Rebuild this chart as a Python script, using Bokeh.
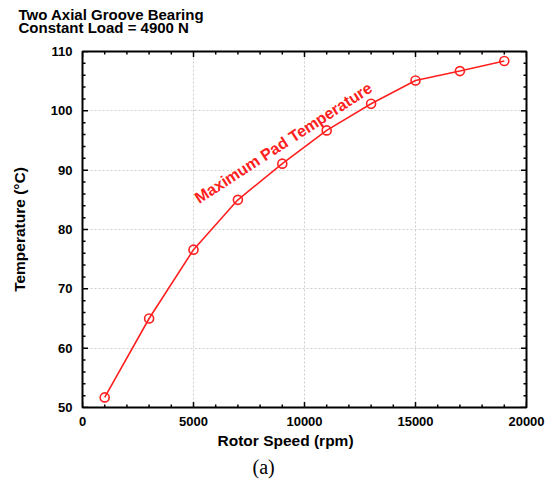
import math
from bokeh.plotting import figure
from bokeh.models import Label, Title, Range1d, ColumnDataSource
from bokeh.embed import file_html
from bokeh.resources import INLINE

# Data
rotor_speed = [1000, 3000, 5000, 7000, 9000, 11000, 13000, 15000, 17000, 19000]
max_pad_temp = [51.7, 65.0, 76.6, 85.0, 91.1, 96.7, 101.2, 105.1, 106.7, 108.4]
x_ticks = [0, 5000, 10000, 15000, 20000]
y_ticks = [50, 60, 70, 80, 90, 100, 110]
x_minor_ticks = [1000, 2000, 3000, 4000, 6000, 7000, 8000, 9000,
                 11000, 12000, 13000, 14000, 16000, 17000, 18000, 19000]
y_minor_ticks = [52, 54, 56, 58, 62, 64, 66, 68, 72, 74, 76, 78,
                 82, 84, 86, 88, 92, 94, 96, 98, 102, 104, 106, 108]
title_lines = ["Two Axial Groove Bearing", "Constant Load = 4900 N"]
series_label = "Maximum Pad Temperature"
x_label = "Rotor Speed (rpm)"
y_label = "Temperature (°C)"
caption = "(a)"

FONT = "Liberation Sans"
RED = "#ff2020"
X0, X1, Y0, Y1 = 0, 20000, 50, 110

p = figure(width=556, height=483, output_backend="svg", toolbar_location=None,
           x_range=Range1d(X0, X1), y_range=Range1d(Y0, Y1),
           min_border_left=82, min_border_right=30, min_border_top=51, min_border_bottom=76)
p.background_fill_color = "white"
p.border_fill_color = "white"
p.outline_line_color = "black"
p.outline_line_width = 2

for ax in (p.xaxis[0], p.yaxis[0]):
    ax.major_label_text_font = FONT
    ax.major_label_text_font_style = "bold"
    ax.major_label_text_font_size = "13px"
    ax.major_label_text_color = "black"
    ax.axis_line_color = None
    ax.major_tick_line_color = None
    ax.minor_tick_line_color = None
    ax.major_tick_out = 0
    ax.minor_tick_out = 0

p.xaxis.ticker = x_ticks
p.yaxis.ticker = y_ticks
p.xaxis.major_label_standoff = 9
p.yaxis.major_label_standoff = 10

p.yaxis.axis_label = y_label
p.yaxis.axis_label_text_font = FONT
p.yaxis.axis_label_text_font_style = "bold"
p.yaxis.axis_label_text_font_size = "15.5px"
p.yaxis.axis_label_text_color = "black"
p.yaxis.axis_label_standoff = 20

p.xgrid.ticker = x_ticks
p.ygrid.ticker = y_ticks
p.xgrid.grid_line_color = "#cfcfcf"
p.ygrid.grid_line_color = "#cfcfcf"
p.xgrid.grid_line_dash = "2 2"
p.ygrid.grid_line_dash = "2 2"

# Inward tick marks on all four sides (clipped to the frame, so only the inner half shows)
for xs, sz in ((x_ticks, 11), (x_minor_ticks, 6)):
    for yy in (Y0, Y1):
        p.scatter(xs, [yy] * len(xs), marker="dash", angle=math.pi / 2, size=sz,
                  line_color="black", line_width=1.5)
for ys, sz in ((y_ticks, 11), (y_minor_ticks, 6)):
    for xx in (X0, X1):
        p.scatter([xx] * len(ys), ys, marker="dash", size=sz,
                  line_color="black", line_width=1.5)

src = ColumnDataSource(dict(x=rotor_speed, y=max_pad_temp))
p.line("x", "y", source=src, line_color=RED, line_width=1.6)
p.scatter("x", "y", source=src, marker="circle", size=9, fill_color=None,
          line_color=RED, line_width=1.6)

p.add_layout(Label(x=9050, y=94.6, text=series_label, angle=33 * math.pi / 180,
                   text_align="center", text_baseline="middle",
                   text_font=FONT, text_font_style="bold",
                   text_font_size="16px", text_color=RED))

# Two-line title above (trailing blank line leaves room between title and frame)
tt = Title(text="\n".join(title_lines) + "\n", align="left", offset=-64, text_font=FONT,
           text_font_style="bold", text_font_size="15px", text_color="black",
           vertical_align="top", text_line_height=0.8, standoff=0)
p.add_layout(tt, "above")

# Below: x label and caption
bx = Title(text=x_label, align="left", offset=135, text_font=FONT,
           text_font_style="bold", text_font_size="15.5px", text_color="black", standoff=2)
bc = Title(text=caption, align="left", offset=170, text_font="Liberation Serif",
           text_font_style="normal", text_font_size="20px", text_color="black", standoff=8)
p.add_layout(bx, "below")
p.add_layout(bc, "below")

open("out.html", "w").write(file_html(p, INLINE))
